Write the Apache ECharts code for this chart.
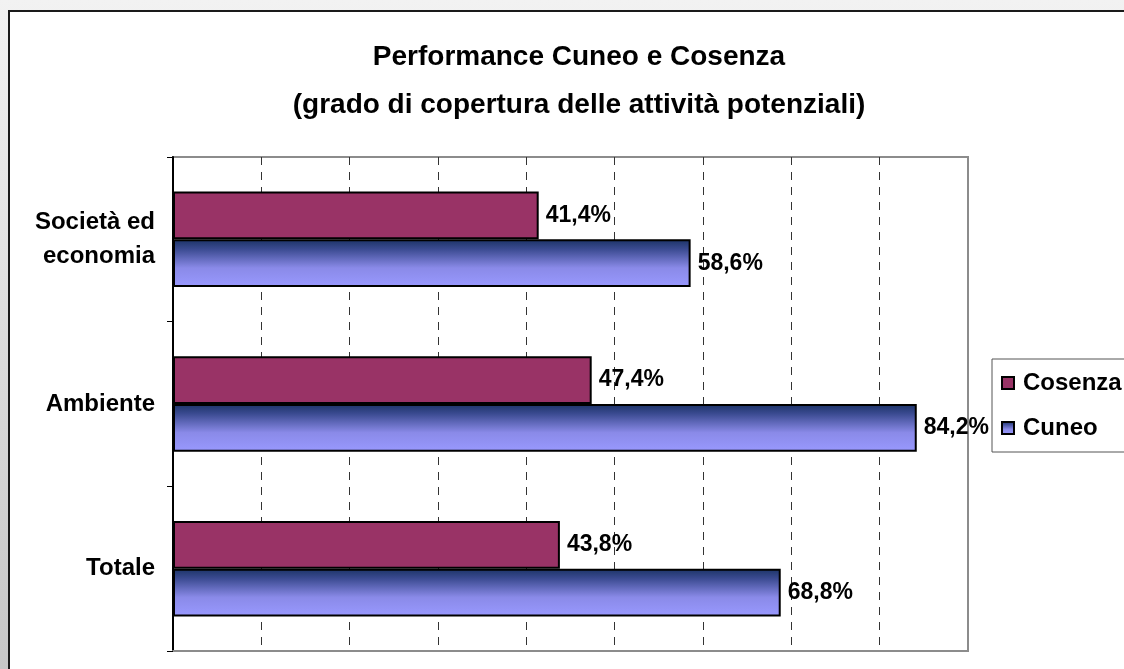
<!DOCTYPE html>
<html>
<head>
<meta charset="utf-8">
<title>Performance Cuneo e Cosenza</title>
<script src="https://cdn.jsdelivr.net/npm/echarts@6/dist/echarts.min.js"></script>
<style>
  html, body { margin: 0; padding: 0; width: 1124px; height: 669px; overflow: hidden; }
  body { background: linear-gradient(to bottom, #f2f2f2, #c6c6c6); position: relative; }
  #sheet {
    position: absolute; left: 8px; top: 10px; right: 0; bottom: 0;
    background: #fff; border-top: 2px solid #1a1a1a; border-left: 2px solid #1a1a1a;
  }
  #main { position: absolute; left: 0; top: 0; width: 1124px; height: 669px; }
</style>
</head>
<body>
<div id="sheet"></div>
<div id="main"></div>
<script>
// categories top -> bottom
const categories = ['Società ed\neconomia', 'Ambiente', 'Totale'];
const seriesNames = ['Cosenza', 'Cuneo'];
const cosenza = [41.4, 47.4, 43.8];
const cuneo = [58.6, 84.2, 68.8];

const FONT = "'Liberation Sans', Arial, sans-serif";

function pct(p) {
  return p.value.toFixed(1).replace('.', ',') + '%';
}

const labelStyle = {
  show: true,
  position: 'right',
  distance: 7,
  formatter: pct,
  color: '#000',
  fontFamily: FONT,
  fontWeight: 'bold',
  fontSize: 23
};

const chart = echarts.init(document.getElementById('main'), null, { renderer: 'canvas' });
chart.setOption({
  backgroundColor: 'transparent',
  animation: false,
  title: {
    text: 'Performance Cuneo e Cosenza\n(grado di copertura delle attività potenziali)',
    left: 574,
    top: 28,
    textAlign: 'center',
    textStyle: {
      fontFamily: FONT,
      fontWeight: 'bold',
      fontSize: 28,
      lineHeight: 48,
      color: '#000'
    }
  },
  legend: {
    orient: 'vertical',
    left: 992,
    top: 359,
    padding: [12, 20, 12, 9],
    itemWidth: 12,
    itemHeight: 12,
    itemGap: 21,
    icon: 'rect',
    backgroundColor: '#fff',
    borderColor: '#555',
    borderWidth: 1,
    borderRadius: 0,
    data: seriesNames,
    textStyle: {
      fontFamily: FONT,
      fontWeight: 'bold',
      fontSize: 24,
      lineHeight: 24,
      color: '#000',
      padding: [0, 0, 0, 4]
    }
  },
  grid: {
    left: 173,
    top: 157,
    right: 156,
    bottom: 18,
    show: true,
    borderColor: '#8c8c8c',
    borderWidth: 2,
    backgroundColor: 'transparent'
  },
  xAxis: {
    type: 'value',
    min: 0,
    max: 90,
    interval: 10,
    axisLabel: { show: false },
    axisTick: { show: false },
    axisLine: { show: true, lineStyle: { color: '#8c8c8c', width: 2 } },
    splitLine: {
      show: true,
      showMinLine: false,
      showMaxLine: false,
      lineStyle: { color: '#333', width: 1, type: [8, 7] }
    }
  },
  yAxis: {
    type: 'category',
    inverse: true,
    data: categories,
    axisLine: { show: true, lineStyle: { color: '#000', width: 2 } },
    axisTick: { show: true, length: 6, lineStyle: { color: '#000', width: 1 } },
    axisLabel: {
      margin: 18,
      fontFamily: FONT,
      fontWeight: 'bold',
      fontSize: 24,
      lineHeight: 34,
      color: '#000',
      align: 'right'
    },
    splitLine: { show: false }
  },
  series: [
    {
      name: 'Cosenza',
      type: 'bar',
      data: cosenza,
      barGap: '0%',
      barCategoryGap: '42%',
      itemStyle: { color: '#993366', borderColor: '#000', borderWidth: 2 },
      label: labelStyle
    },
    {
      name: 'Cuneo',
      type: 'bar',
      data: cuneo,
      barGap: '0%',
      barCategoryGap: '42%',
      itemStyle: {
        color: new echarts.graphic.LinearGradient(0, 0, 0, 1, [
          { offset: 0, color: '#1b3366' },
          { offset: 0.2, color: '#3a4a90' },
          { offset: 0.6, color: '#8a8ae8' },
          { offset: 1, color: '#9999ff' }
        ]),
        borderColor: '#000',
        borderWidth: 2
      },
      label: labelStyle
    }
  ]
});
</script>
</body>
</html>
